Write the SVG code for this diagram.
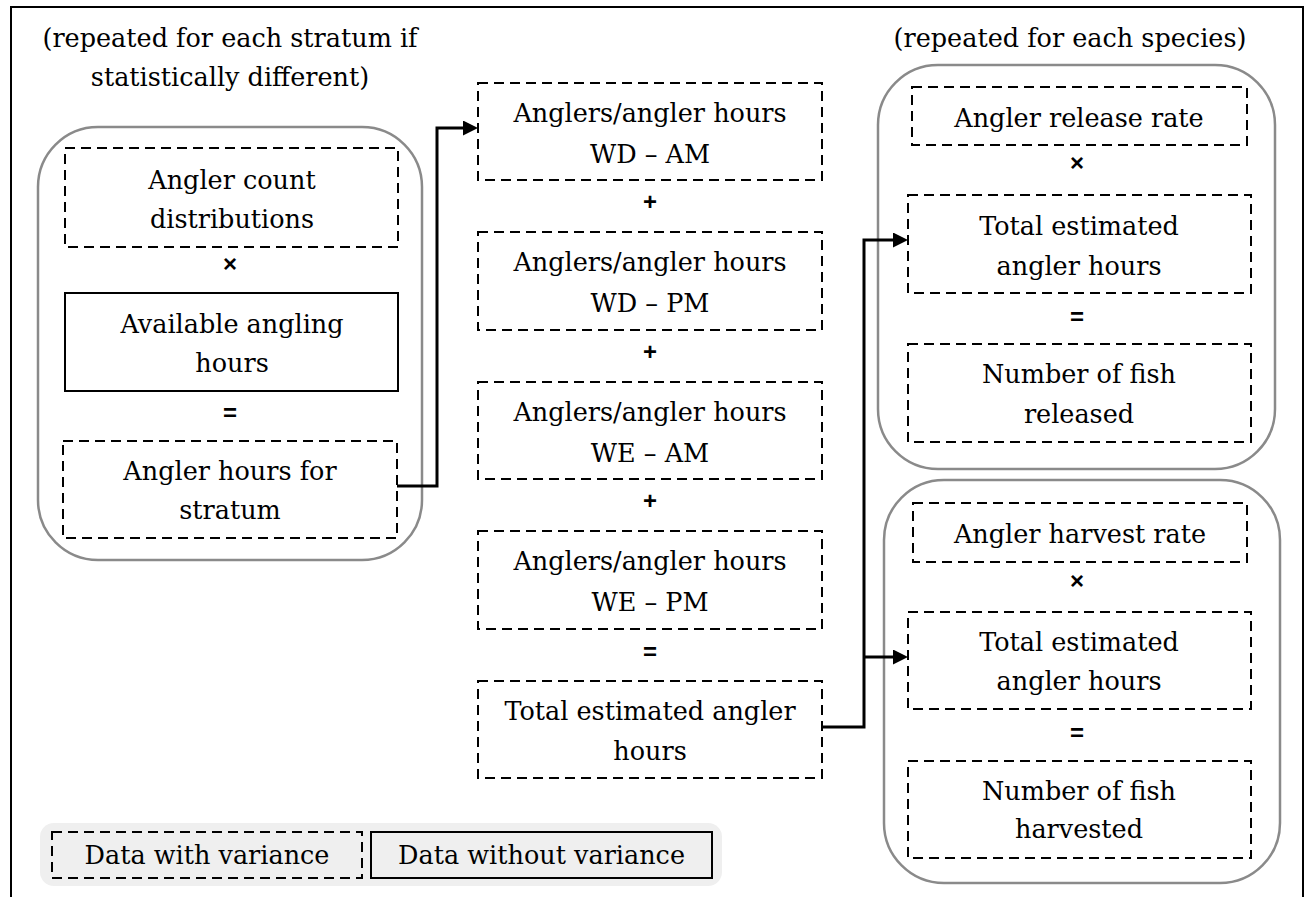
<svg xmlns="http://www.w3.org/2000/svg" width="1306" height="897" viewBox="0 0 1306 897">
<style>
.t{font-family:"DejaVu Serif","Liberation Serif",serif;font-size:25.5px;fill:#000;text-anchor:middle}
.op{font-family:"Liberation Sans",Arial,sans-serif;font-weight:bold;font-size:24px;fill:#000;text-anchor:middle}
.dash{fill:#fff;stroke:#000;stroke-width:2;stroke-dasharray:10,6}
.solid{fill:#fff;stroke:#000;stroke-width:2}
.cont{fill:none;stroke:#8a8a8a;stroke-width:2.5}
.conn{fill:none;stroke:#000;stroke-width:3;stroke-linejoin:miter}
</style>
<defs>
<marker id="arr" markerUnits="userSpaceOnUse" markerWidth="16" markerHeight="16" refX="3" refY="7.5" orient="auto">
<path d="M0,0 L15,7.5 L0,15 Z" fill="#000"/>
</marker>
</defs>
<rect width="1306" height="897" fill="#fff"/>
<g id="frame">
<path d="M11,897 L11,7 L1303,7 L1303,897" fill="none" stroke="#000" stroke-width="2"/>
</g>
<g id="title-stratum">
<text class="t" x="230" y="47">(repeated for each stratum if</text>
<text class="t" x="230" y="86">statistically different)</text>
</g>
<g id="title-species">
<text class="t" x="1070" y="47">(repeated for each species)</text>
</g>
<g id="group-stratum">
<rect class="cont" x="38" y="127" width="384" height="433" rx="60"/>
</g>
<g id="group-released">
<rect class="cont" x="878" y="65" width="397" height="404" rx="60"/>
</g>
<g id="group-harvested">
<rect class="cont" x="884" y="480" width="396" height="403" rx="60"/>
</g>
<g id="legend">
<rect x="40" y="823" width="682" height="63" rx="14" fill="#efefef"/>
<rect class="dash" x="52" y="832" width="310" height="46" fill="none" style="fill:none"/>
<text class="t" x="207" y="864">Data with variance</text>
<rect class="solid" x="371" y="832" width="341" height="46" style="fill:none"/>
<text class="t" x="541.5" y="864">Data without variance</text>
</g>
<g id="n-angler-count">
<rect class="dash" x="65" y="148" width="333" height="99"/>
<text class="t" x="232" y="189">Angler count</text>
<text class="t" x="232" y="228">distributions</text>
</g>
<g id="n-available-hours">
<rect class="solid" x="65" y="293" width="333" height="98"/>
<text class="t" x="232" y="333">Available angling</text>
<text class="t" x="232" y="372">hours</text>
</g>
<g id="n-stratum-hours">
<rect class="dash" x="63" y="441" width="334" height="97"/>
<text class="t" x="230" y="480">Angler hours for</text>
<text class="t" x="230" y="519">stratum</text>
</g>
<g id="n-wd-am">
<rect class="dash" x="478" y="83" width="344" height="97"/>
<text class="t" x="650" y="122">Anglers/angler hours</text>
<text class="t" x="650" y="163">WD – AM</text>
</g>
<g id="n-wd-pm">
<rect class="dash" x="478" y="232" width="344" height="98"/>
<text class="t" x="650" y="271">Anglers/angler hours</text>
<text class="t" x="650" y="312">WD – PM</text>
</g>
<g id="n-we-am">
<rect class="dash" x="478" y="382" width="344" height="97"/>
<text class="t" x="650" y="421">Anglers/angler hours</text>
<text class="t" x="650" y="462">WE – AM</text>
</g>
<g id="n-we-pm">
<rect class="dash" x="478" y="531" width="344" height="98"/>
<text class="t" x="650" y="570">Anglers/angler hours</text>
<text class="t" x="650" y="611">WE – PM</text>
</g>
<g id="n-total-hours">
<rect class="dash" x="478" y="681" width="344" height="97"/>
<text class="t" x="650" y="720">Total estimated angler</text>
<text class="t" x="650" y="760">hours</text>
</g>
<g id="n-release-rate">
<rect class="dash" x="912" y="87" width="335" height="58"/>
<text class="t" x="1079" y="127">Angler release rate</text>
</g>
<g id="n-total-hours-r">
<rect class="dash" x="908" y="195" width="343" height="98"/>
<text class="t" x="1079" y="235">Total estimated</text>
<text class="t" x="1079" y="275">angler hours</text>
</g>
<g id="n-released">
<rect class="dash" x="908" y="344" width="343" height="98"/>
<text class="t" x="1079" y="383">Number of fish</text>
<text class="t" x="1079" y="423">released</text>
</g>
<g id="n-harvest-rate">
<rect class="dash" x="913" y="503" width="334" height="59"/>
<text class="t" x="1080" y="543">Angler harvest rate</text>
</g>
<g id="n-total-hours-h">
<rect class="dash" x="908" y="612" width="343" height="97"/>
<text class="t" x="1079" y="651">Total estimated</text>
<text class="t" x="1079" y="690">angler hours</text>
</g>
<g id="n-harvested">
<rect class="dash" x="908" y="761" width="343" height="97"/>
<text class="t" x="1079" y="800">Number of fish</text>
<text class="t" x="1079" y="838">harvested</text>
</g>
<g id="operators">
<text class="op" x="230" y="272">×</text>
<text class="op" x="230" y="421">=</text>
<text class="op" x="650" y="210">+</text>
<text class="op" x="650" y="360">+</text>
<text class="op" x="650" y="509">+</text>
<text class="op" x="650" y="660">=</text>
<text class="op" x="1077" y="171">×</text>
<text class="op" x="1077" y="325">=</text>
<text class="op" x="1077" y="589">×</text>
<text class="op" x="1077" y="741">=</text>
</g>
<g id="connectors">
<path class="conn" d="M397,486 L437,486 L437,128 L466,128" marker-end="url(#arr)"/>
<path class="conn" d="M822,727 L864,727 L864,240 L896,240" marker-end="url(#arr)"/>
<path class="conn" d="M864,657 L896,657" marker-end="url(#arr)"/>
</g>
</svg>
